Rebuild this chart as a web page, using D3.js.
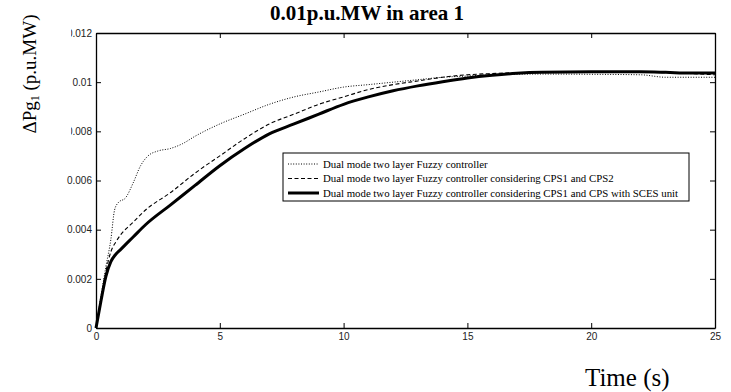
<!DOCTYPE html>
<html>
<head>
<meta charset="utf-8">
<script src="https://cdn.jsdelivr.net/npm/d3@7"></script>
<style>
  body { margin: 0; background: #fff; }
  .tick text { font-family: "Liberation Sans", Arial, sans-serif; font-size: 10px; fill: #222; }
  .serif { font-family: "Liberation Serif", "Times New Roman", serif; }
</style>
</head>
<body>
<div id="chart"></div>
<script>
// time samples (s) and the three responses (p.u.MW)
const tDotted = [0, 0.2, 0.4, 0.6, 0.75, 0.9, 1.2, 1.5, 1.8, 2.1, 2.5, 3, 3.5, 4, 5, 6, 7, 8, 9, 10, 11, 12, 13, 14, 15, 16, 18, 20, 22, 23, 24, 25];
const vDotted = [0, 0.0013, 0.0025, 0.0036, 0.0048, 0.0051, 0.0053, 0.0059, 0.0066, 0.007, 0.0072, 0.0073, 0.0075, 0.0078, 0.0083, 0.0087, 0.0091, 0.0094, 0.0096, 0.0098, 0.0099, 0.01, 0.0101, 0.0102, 0.01025, 0.0103, 0.01033, 0.01032, 0.0103, 0.0102, 0.0102, 0.0102];

const tDashed = [0, 0.2, 0.4, 0.6, 0.8, 1, 1.5, 2, 3, 4, 5, 6, 7, 8, 9, 10, 11, 12, 13, 14, 15, 16, 18, 20, 22, 24, 25];
const vDashed = [0, 0.0012, 0.0023, 0.0031, 0.0035, 0.0038, 0.0043, 0.0048, 0.0055, 0.0063, 0.007, 0.0077, 0.0083, 0.0087, 0.0091, 0.0094, 0.0097, 0.0099, 0.01005, 0.0102, 0.0103, 0.01035, 0.0104, 0.0104, 0.0104, 0.01035, 0.0103];

const tSolid = [0, 0.2, 0.4, 0.6, 0.8, 1, 1.5, 2, 3, 4, 5, 6, 7, 8, 9, 10, 11, 12, 13, 14, 15, 16, 17, 18, 20, 22, 23, 24, 25];
const vSolid = [0, 0.0011, 0.0021, 0.0027, 0.003, 0.0032, 0.0037, 0.0042, 0.005, 0.0058, 0.0066, 0.0073, 0.0079, 0.0083, 0.0087, 0.0091, 0.0094, 0.00965, 0.00985, 0.01002, 0.01017, 0.01028, 0.01036, 0.0104, 0.01042, 0.01042, 0.0104, 0.01037, 0.01037];

const seriesNames = [
  'Dual mode two layer Fuzzy controller',
  'Dual mode two layer Fuzzy controller considering CPS1 and CPS2',
  'Dual mode two layer Fuzzy controller considering CPS1 and CPS with SCES unit',
];

const xTicks = [0, 5, 10, 15, 20, 25];
const xTickLabels = ['0', '5', '10', '15', '20', '25'];
const yTicks = [0, 0.002, 0.004, 0.006, 0.008, 0.01, 0.012];
const yTickLabels = ['0', '0.002', '0.004', '0.006', '0.008', '0.01', '0.012'];

const width = 731;
const height = 392;
const margin = { top: 33, right: 16, bottom: 64, left: 96 };
const plotW = width - margin.left - margin.right;
const plotH = height - margin.top - margin.bottom;

const svg = d3.select('#chart').append('svg')
  .attr('width', width)
  .attr('height', height);

const x = d3.scaleLinear().domain([0, 25]).range([0, plotW]);
const y = d3.scaleLinear().domain([0, 0.012]).range([plotH, 0]);

const g = svg.append('g')
  .attr('transform', `translate(${margin.left},${margin.top})`);

// axes, MATLAB box style with inward ticks
g.append('g')
  .attr('transform', `translate(0,${plotH})`)
  .call(d3.axisBottom(x).tickValues(xTicks).tickFormat((d, i) => xTickLabels[i])
    .tickSizeInner(-5).tickSizeOuter(0).tickPadding(5));
g.append('g')
  .call(d3.axisTop(x).tickValues(xTicks).tickFormat('')
    .tickSizeInner(-5).tickSizeOuter(0));
g.append('g')
  .call(d3.axisLeft(y).tickValues(yTicks).tickFormat((d, i) => yTickLabels[i])
    .tickSizeInner(-5).tickSizeOuter(0).tickPadding(4));
g.append('g')
  .attr('transform', `translate(${plotW},0)`)
  .call(d3.axisRight(y).tickValues(yTicks).tickFormat('')
    .tickSizeInner(-5).tickSizeOuter(0));
g.selectAll('.domain').attr('stroke', '#000').attr('stroke-width', 1.3);
g.selectAll('.tick line').attr('stroke', '#000');

// curves
const line = d3.line()
  .x((d) => x(d[0]))
  .y((d) => y(d[1]))
  .curve(d3.curveMonotoneX);

const series = [
  { t: tDotted, v: vDotted, width: 1, dash: '1,1.6' },
  { t: tDashed, v: vDashed, width: 1.1, dash: '4,2.5' },
  { t: tSolid, v: vSolid, width: 3, dash: null },
];

g.selectAll('.curve')
  .data(series)
  .enter()
  .append('path')
  .attr('class', 'curve')
  .attr('fill', 'none')
  .attr('stroke', '#000')
  .attr('stroke-width', (d) => d.width)
  .attr('stroke-dasharray', (d) => d.dash)
  .attr('d', (d) => line(d.t.map((t, i) => [t, d.v[i]])));

// legend
const legend = svg.append('g').attr('transform', 'translate(283,153)');
legend.append('rect')
  .attr('width', 406)
  .attr('height', 48)
  .attr('fill', '#fff')
  .attr('stroke', '#000')
  .attr('stroke-width', 1);

const rows = legend.selectAll('.legend-row')
  .data(series)
  .enter()
  .append('g')
  .attr('class', 'legend-row')
  .attr('transform', (d, i) => `translate(0,${11 + i * 14.5})`);

rows.append('line')
  .attr('x1', 5).attr('x2', 36)
  .attr('stroke', '#000')
  .attr('stroke-width', (d) => d.width)
  .attr('stroke-dasharray', (d) => d.dash);

rows.append('text')
  .attr('class', 'serif')
  .attr('x', 40)
  .attr('dy', '0.33em')
  .attr('font-size', 10.8)
  .text((d, i) => seriesNames[i]);

// white patch that crops the tick labels on the left, as in the source figure
svg.append('rect')
  .attr('x', 0).attr('y', 0)
  .attr('width', 71).attr('height', 140)
  .attr('fill', '#fff');

// titles
svg.append('text')
  .attr('class', 'serif')
  .attr('x', 367)
  .attr('y', 20)
  .attr('text-anchor', 'middle')
  .attr('font-size', 21)
  .attr('font-weight', 'bold')
  .text('0.01p.u.MW in area 1');

const yLabel = svg.append('text')
  .attr('class', 'serif')
  .attr('transform', 'translate(36,74) rotate(-90)')
  .attr('text-anchor', 'middle')
  .attr('font-size', 19);
yLabel.append('tspan').text('ΔPg');
yLabel.append('tspan').attr('font-size', 12).attr('dy', 3).text('1');
yLabel.append('tspan').attr('dy', -3).text(' (p.u.MW)');

svg.append('text')
  .attr('class', 'serif')
  .attr('x', 585)
  .attr('y', 386)
  .attr('font-size', 25)
  .text('Time (s)');
</script>
</body>
</html>
